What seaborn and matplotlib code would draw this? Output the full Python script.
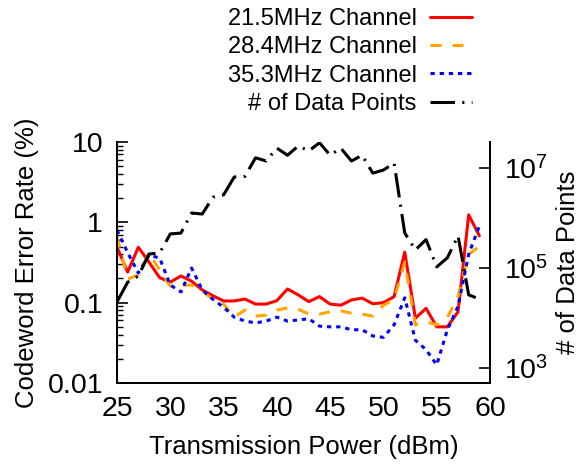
import matplotlib
matplotlib.use("Agg")
import matplotlib.pyplot as plt
import seaborn as sns
from matplotlib.lines import Line2D
from matplotlib.ticker import LogLocator, FixedLocator, NullFormatter, NullLocator, FixedFormatter

# Transmission power sweep (dBm)
power_dbm = list(range(25, 60))

# Codeword error rate (%) per channel
err_21_5 = [0.49, 0.24, 0.49, 0.32, 0.205, 0.18, 0.215, 0.185, 0.144, 0.122,
            0.105, 0.105, 0.111, 0.096, 0.096, 0.106, 0.148, 0.125, 0.103, 0.119,
            0.096, 0.093, 0.108, 0.114, 0.097, 0.100, 0.119, 0.425, 0.064, 0.085,
            0.050, 0.050, 0.077, 1.24, 0.68]
err_28_4 = [0.66, 0.197, 0.22, 0.416, 0.255, 0.16, 0.165, 0.166, 0.14, 0.11,
            0.096, 0.066, 0.081, 0.068, 0.07, 0.081, 0.086, 0.083, 0.072, 0.072,
            0.077, 0.079, 0.074, 0.072, 0.068, 0.093, 0.11, 0.32, 0.053, 0.058,
            0.053, 0.065, 0.12, 0.40, 0.50]
err_35_3 = [0.80, 0.42, 0.234, 0.39, 0.36, 0.166, 0.136, 0.27, 0.144, 0.11,
            0.088, 0.066, 0.059, 0.056, 0.059, 0.066, 0.059, 0.061, 0.063, 0.051,
            0.050, 0.050, 0.046, 0.046, 0.0385, 0.037, 0.053, 0.115, 0.034, 0.026,
            0.0168, 0.046, 0.09, 0.40, 0.90]

# Number of data points collected at each power level
data_points = [2.1e4, 5.2e4, 6.9e4, 1.9e5, 2.0e5, 4.8e5, 5.0e5, 1.26e6, 1.2e6, 2.6e6,
               2.9e6, 6.6e6, 6.8e6, 1.6e7, 1.38e7, 2.5e7, 1.8e7, 2.75e7, 2.2e7, 3.2e7,
               1.8e7, 2.5e7, 1.38e7, 1.8e7, 7.9e6, 9.1e6, 1.26e7, 5.0e5, 2.3e5, 3.7e5,
               1.05e5, 1.6e5, 4.4e5, 2.9e4, 2.4e4]

series_labels = ["21.5MHz Channel", "28.4MHz Channel", "35.3MHz Channel", "# of Data Points"]
x_ticks = [25, 30, 35, 40, 45, 50, 55, 60]
left_ticks = [0.01, 0.1, 1, 10]
left_tick_labels = ["0.01", "0.1", "1", "10"]
right_ticks = [1e3, 1e5, 1e7]
right_tick_labels = [r"$\mathregular{10^{3}}$", r"$\mathregular{10^{5}}$", r"$\mathregular{10^{7}}$"]

sns.set_theme(style="white")
plt.rcParams["font.family"] = ["Liberation Sans", "DejaVu Sans"]
plt.rcParams["mathtext.default"] = "regular"
for key in ("text.color", "axes.labelcolor", "xtick.color", "ytick.color", "axes.edgecolor"):
    plt.rcParams[key] = "black"

LW = 2.2
styles = {
    "red": dict(color="#ff0000", linestyle="-"),
    "orange": dict(color="#ffa500", linestyle=(0, (3.6, 3.6))),
    "blue": dict(color="#0000ff", linestyle=(0, (1.4, 1.6))),
    "black": dict(color="#000000", linestyle=(0, (8.0, 2.4, 0.7, 2.4))),
}

W, H = 584, 468
fig = plt.figure(figsize=(W / 100, H / 100), dpi=100)
ax = fig.add_axes([117 / W, 1 - 383 / H, (490 - 117) / W, (383 - 142) / H])
ax2 = ax.twinx()

sns.lineplot(x=power_dbm, y=err_21_5, ax=ax, lw=LW, **styles["red"])
sns.lineplot(x=power_dbm, y=err_28_4, ax=ax, lw=LW, **styles["orange"])
sns.lineplot(x=power_dbm, y=err_35_3, ax=ax, lw=LW, **styles["blue"])
sns.lineplot(x=power_dbm, y=data_points, ax=ax2, lw=LW, **styles["black"])

ax.set_xlim(25, 60)
ax.set_yscale("log")
ax.set_ylim(0.01, 10)
ax2.set_yscale("log")
ax2.set_ylim(10 ** 2.7, 10 ** 7.52)

ax.set_xticks(x_ticks)
ax.set_xticklabels([str(t) for t in x_ticks])
ax.yaxis.set_major_locator(FixedLocator(left_ticks))
ax.yaxis.set_major_formatter(FixedFormatter(left_tick_labels))
ax.yaxis.set_minor_locator(LogLocator(base=10, subs=range(2, 10)))
ax.yaxis.set_minor_formatter(NullFormatter())
ax.xaxis.set_minor_locator(NullLocator())

ax2.yaxis.set_major_locator(FixedLocator(right_ticks))
ax2.yaxis.set_major_formatter(FixedFormatter(right_tick_labels))
ax2.yaxis.set_minor_locator(NullLocator())

TICK_FS = 20.5
for a in (ax, ax2):
    a.spines["top"].set_visible(False)
    for s in a.spines.values():
        s.set_linewidth(1.3)
        s.set_color("black")
    a.tick_params(axis="both", which="major", direction="in", length=8, width=1.2,
                  labelsize=TICK_FS, colors="black")
    a.tick_params(axis="both", which="minor", direction="in", length=4, width=1.0,
                  colors="black")
ax.tick_params(axis="y", which="major", pad=10, right=False)
ax.tick_params(axis="y", which="minor", right=False)
ax.tick_params(axis="x", which="major", pad=9, top=False)
ax2.tick_params(axis="y", which="major", pad=10)

ax.set_xlabel("Transmission Power (dBm)", fontsize=18.5, labelpad=10, color="black")
ax.set_ylabel("Codeword Error Rate (%)", fontsize=18.5, labelpad=6, color="black")
ax2.set_ylabel("# of Data Points", fontsize=18.5, labelpad=6, rotation=90, color="black")

handles = [Line2D([], [], lw=LW, **styles[k]) for k in ("red", "orange", "blue", "black")]
leg = fig.legend(handles, series_labels, loc="upper right", bbox_to_anchor=(472 / W, 1 - 8 / H),
                 markerfirst=False, frameon=False, fontsize=17, handlelength=1.8,
                 handletextpad=0.55, labelspacing=0.27, borderpad=0, borderaxespad=0)
for t in leg.get_texts():
    t.set_color("black")

fig.savefig("out.png", dpi=100)
